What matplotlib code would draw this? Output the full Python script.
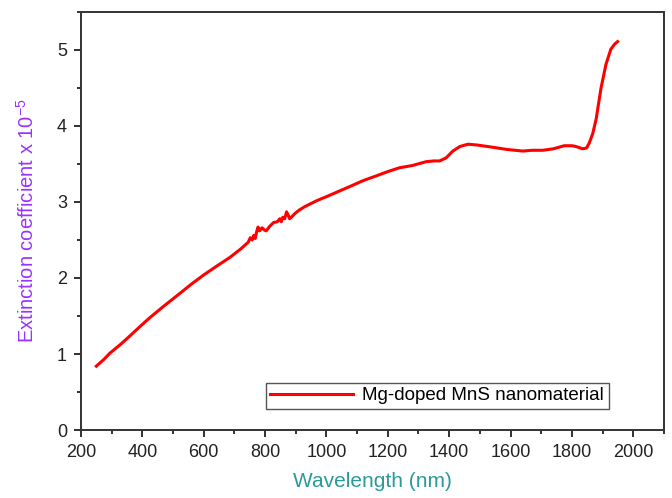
import matplotlib.pyplot as plt
from matplotlib.ticker import MultipleLocator

plt.rcParams['font.family'] = ['Liberation Sans', 'DejaVu Sans']

# wavelength (nm) and extinction coefficient (x 10^-5)
wavelength = [250, 275, 294, 330, 360, 392, 425, 470, 520, 560, 600, 640, 685,
              720, 745, 752, 758, 763, 768, 772, 777, 782, 790, 798, 804, 815,
              828, 840, 848, 853, 858, 864, 870, 875, 880, 886, 895, 910, 930,
              945, 970, 1000, 1040, 1080, 1119, 1160, 1200, 1238, 1280, 1325,
              1350, 1369, 1390, 1412, 1435, 1461, 1490, 1542, 1590, 1640,
              1670, 1705, 1740, 1775, 1800, 1813, 1835, 1848, 1857, 1868,
              1879, 1895, 1911, 1927, 1940, 1949]
extinction = [0.84, 0.93, 1.01, 1.13, 1.24, 1.36, 1.48, 1.63, 1.79, 1.92, 2.04,
              2.15, 2.27, 2.38, 2.47, 2.53, 2.50, 2.56, 2.52, 2.60, 2.67, 2.62,
              2.66, 2.63, 2.62, 2.68, 2.73, 2.74, 2.78, 2.74, 2.80, 2.78, 2.87,
              2.83, 2.78, 2.80, 2.84, 2.89, 2.94, 2.97, 3.02, 3.07, 3.14, 3.21,
              3.28, 3.34, 3.40, 3.45, 3.48, 3.53, 3.54, 3.54, 3.58, 3.67, 3.73,
              3.76, 3.75, 3.72, 3.69, 3.67, 3.68, 3.68, 3.70, 3.74, 3.74, 3.73,
              3.70, 3.71, 3.78, 3.90, 4.09, 4.50, 4.81, 5.01, 5.08, 5.11]

fig = plt.figure(figsize=(6.72, 4.98), dpi=100)
ax = fig.add_axes([0.1205, 0.1365, 0.8675, 0.8395])

ax.plot(wavelength, extinction, color='#ff0000', lw=2.2,
        label='Mg-doped MnS nanomaterial')

ax.set_xlim(200, 2100)
ax.set_ylim(0, 5.5)
ax.xaxis.set_major_locator(MultipleLocator(200))
ax.xaxis.set_minor_locator(MultipleLocator(100))
ax.yaxis.set_major_locator(MultipleLocator(1))
ax.yaxis.set_minor_locator(MultipleLocator(0.5))
ax.tick_params(which='both', direction='out', labelsize=13, colors='#222222')
ax.tick_params(which='major', length=5, width=1.3, pad=5)
ax.tick_params(which='minor', length=3, width=1.3)
for s in ax.spines.values():
    s.set_linewidth(1.4)
    s.set_color('#333333')

ax.set_xlabel('Wavelength (nm)', fontsize=15, color='#2a9a9a', labelpad=8)
ax.set_ylabel('Extinction coefficient x 10$^{\\mathregular{-5}}$', fontsize=14.5,
              color='#9933ff', labelpad=14)

leg = ax.legend(loc='lower right', bbox_to_anchor=(0.905, 0.05),
                fontsize=13.5, fancybox=False, framealpha=1,
                edgecolor='#555555', handlelength=4.4, handletextpad=0.5,
                borderpad=0.25, borderaxespad=0)
leg.get_frame().set_linewidth(1.0)

fig.savefig('out.png', dpi=100)
